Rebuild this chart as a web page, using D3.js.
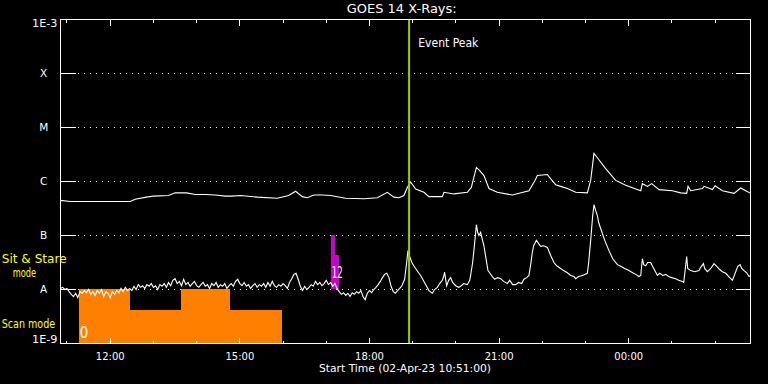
<!DOCTYPE html>
<html><head><meta charset="utf-8">
<script src="https://cdn.jsdelivr.net/npm/d3@7"></script>
<style>html,body{margin:0;padding:0;background:#000;} svg{display:block;}</style>
</head><body>
<svg id="c" width="768" height="384"></svg>
<script>
// ---------- data ----------
const startTime = "2023-04-02T10:51:00Z";
const endTime = "2023-04-03T02:49:00Z";
const eventPeak = "2023-04-02T18:55:00Z";
const titleText = "GOES 14 X-Rays:";
const xTitle = "Start Time (02-Apr-23 10:51:00)";
const yTickValues = [1e-9, 1e-8, 1e-7, 1e-6, 1e-5, 1e-4, 1e-3];
const yTickLabels = ["1E-9", "A", "B", "C", "M", "X", "1E-3"];
const gridValues = [1e-8, 1e-7, 1e-6, 1e-5, 1e-4];

// long channel (1-8 A): minutes after start, log10 flux (W/m^2)
const longMinutes = [0,13.5,96.8,103.7,119.4,129.2,150,159.3,175,187.1,201,214.9,228.8,237.5,250,273.2,301,316.7,326.4,335.7,342.6,351.8,363.5,375,395.8,421.3,439.9,453.8,462.9,469.9,476.8,481.5,486.1,493.1,504.6,511.5,530.1,532.4,546.3,564.9,570.4,577.4,582,587.9,594.9,606.5,627.4,650.4,658.8,662.1,676,678.2,687.5,694.4,703.8,715.3,731.5,736.1,740.7,745.4,756.9,770.8,784.7,805.6,807.9,814.9,820.8,831,849.6,861.1,869.4,871.3,875,891.3,893.5,905.1,908.8,919,935.2,944.4,951.4,958.3];
const longLog10 = [-6.35,-6.37,-6.37,-6.33,-6.29,-6.27,-6.26,-6.21,-6.21,-6.24,-6.24,-6.25,-6.27,-6.27,-6.26,-6.29,-6.31,-6.26,-6.18,-6.28,-6.30,-6.25,-6.25,-6.26,-6.31,-6.32,-6.30,-6.20,-6.29,-6.30,-6.26,-6.11,-6.01,-6.14,-6.20,-6.28,-6.28,-6.20,-6.23,-6.20,-6.11,-5.74,-5.80,-5.89,-6.13,-6.20,-6.25,-6.17,-5.98,-5.89,-5.87,-5.91,-6.06,-6.09,-6.13,-6.20,-6.21,-5.98,-5.48,-5.56,-5.76,-5.98,-6.07,-6.17,-6.04,-6.09,-6.04,-6.15,-6.17,-6.21,-6.22,-6.09,-6.17,-6.13,-6.09,-6.15,-6.08,-6.17,-6.22,-6.12,-6.17,-6.22];

// short channel (0.5-4 A): quiet part at a 3-minute cadence from start, log10 flux
const shortCadence = 3;
const shortQuietLog10 = [-7.98,-7.96,-8.00,-7.98,-8.04,-8.09,-8.13,-8.07,-8.15,
-8.04,-8.07,-8.02,-8.06,-8.00,-8.09,-8.04,-8.11,-8.02,-8.07,-8.00,-8.13,-8.04,-8.07,-8.15,-8.04,-8.09,-8.02,-8.06,-7.98,-8.04,-7.96,-8.02,-7.98,
-8.02,-7.94,-8.00,-7.91,-7.96,-7.93,-7.98,-7.91,-7.94,-7.89,
-7.96,-7.93,-8.00,-7.91,-7.94,-7.89,-7.96,-7.87,-7.93,-7.83,
-7.80,-7.89,-7.85,-7.93,-7.81,-7.91,-7.87,-7.94,-7.89,-7.85,
-7.93,-7.96,-7.91,-7.87,-7.94,-7.91,-7.98,-7.89,-7.93,-7.87,
-7.96,-7.91,-7.94,-7.89,-7.98,-7.93,-7.89,-7.94,-7.85,-7.81,
-7.89,-7.93,-7.87,-7.94,-7.91,-7.98,-7.93,-7.89,-7.96,-7.91,
-7.94,-7.89,-7.96,-7.87,-7.94,-7.85,-7.93,-7.96,-7.91,-7.94,
-7.89,-7.93,-7.98,-7.87,-7.80,-7.72,-7.70,-7.81,-7.94,-8.02,
-7.94,-8.00,-7.96,-7.91,-7.94,-7.85,-7.91,-7.87,-7.93,-7.89,
-7.83,-7.91,-7.87,-7.94,-7.89,-7.98,-8.04,-8.09,-8.06,-8.11,
-8.07,-8.13,-8.06,-8.09,-8.04,-8.07,-8.02,-8.13,-8.19,-8.07,
-8.02,-8.06,-8.00,-7.96,-7.91,-7.85,-7.78,-7.72,-7.70,-7.78,
-7.94,-8.04,-8.07,-8.02,-7.98,-7.93];
// short channel, active part: minutes after start, log10 flux
const shortFlareMinutes = [477.8,480.6,482.4,484.7,488.5,493.1,497.2,500,504.6,508.3,511.5,516.3,519.4,523.2,526.4,530.1,531.9,533.3,536.1,538.9,541.7,544.4,548.6,552.8,555.6,559.7,564.9,568.1,569.4,572.2,574,577.4,579.2,581,583.3,585.4,587.9,590.3,593.5,595.8,599.6,602.8,606.9,611.1,615.3,620.4,623.6,627.8,631.9,636.1,640.3,643.5,647.2,650.4,652.8,655.1,656.9,660.7,663.9,666.7,670.8,676,680.6,685.1,688.9,694.4,698.6,703.8,708.3,712.9,715.3,719.4,724.6,727.8,731.5,733.3,736.1,738.9,740.7,743.1,745.4,747.2,750,755.6,761.5,766.7,773.2,777.8,783.3,789.3,794.4,798.6,803.2,805.6,807.9,809.7,812.5,815.3,819.4,823.6,828.8,831.9,836.1,840.3,844.4,848.6,854.2,858.3,863.5,865.3,869.4,870.8,875,880.6,886.5,888.9,892.6,894.4,898.2,902.8,907.4,911.1,915.3,919,923.6,927.8,932.9,936.1,940.3,943.5,945.8,949,952.8,956,958.3];
const shortFlareLog10 = [-7.81,-7.50,-7.28,-7.39,-7.52,-7.61,-7.69,-7.74,-7.85,-7.94,-8.02,-8.07,-8.00,-7.96,-7.89,-7.83,-7.76,-7.68,-7.93,-7.83,-7.78,-7.87,-7.93,-7.96,-7.94,-7.89,-7.91,-7.83,-7.74,-7.50,-7.28,-6.80,-6.94,-7.00,-6.94,-7.06,-7.19,-7.39,-7.65,-7.69,-7.76,-7.81,-7.78,-7.80,-7.85,-7.89,-7.83,-7.91,-7.91,-7.87,-7.89,-7.81,-7.78,-7.74,-7.54,-7.31,-7.19,-7.09,-7.15,-7.20,-7.19,-7.22,-7.37,-7.50,-7.56,-7.61,-7.65,-7.69,-7.74,-7.76,-7.80,-7.76,-7.74,-7.72,-7.70,-7.50,-7.09,-6.63,-6.43,-6.54,-6.63,-6.76,-6.87,-7.09,-7.28,-7.43,-7.54,-7.57,-7.61,-7.65,-7.69,-7.72,-7.76,-7.74,-7.43,-7.54,-7.56,-7.50,-7.50,-7.61,-7.74,-7.70,-7.74,-7.72,-7.76,-7.78,-7.80,-7.83,-7.85,-7.87,-7.39,-7.61,-7.65,-7.67,-7.65,-7.59,-7.52,-7.61,-7.67,-7.61,-7.52,-7.57,-7.63,-7.67,-7.70,-7.76,-7.83,-7.72,-7.57,-7.54,-7.61,-7.65,-7.69,-7.76,-7.74];

// observing modes
const scanStart = ["11:17", "12:28", "13:38", "14:47"];
const scanEnd   = ["12:28", "13:38", "14:47", "15:58"];
const scanLevel = [1e-8, 4.1e-9, 1e-8, 4.1e-9];
const stareStart = ["17:06", "17:12"];
const stareEnd   = ["17:12", "17:17"];
const stareLevel = [1e-7, 4.2e-8];
const modeLabels = ["0", "12"];
const modeLabelTimes = ["11:17", "17:07"];
const modeLabelLevels = [1.25e-9, 1.6e-8];

// ---------- drawing ----------
const W = 768, H = 384, L = 60.5, R = 750.5, T = 19.5, B = 343.5;
const svg = d3.select("#c");
const t0 = new Date(startTime), t1 = new Date(endTime);
const x = d3.scaleUtc().domain([t0, t1]).range([L, R]);
const y = d3.scaleLog().domain([1e-9, 1e-3]).range([B, T]);
const addMin = m => new Date(t0.getTime() + m * 60000);
const clock = s => new Date(`2023-04-02T${s}:00Z`);
const FONT = "DejaVu Sans, sans-serif";

svg.append("rect").attr("width", W).attr("height", H).attr("fill", "#000");

// dotted grid lines
svg.append("g").selectAll("line").data(gridValues).join("line")
  .attr("x1", 78).attr("x2", 736)
  .attr("y1", d => y(d)).attr("y2", d => y(d))
  .attr("stroke", "#fff").attr("stroke-width", 1)
  .attr("stroke-dasharray", "1,5").attr("shape-rendering", "crispEdges");

// scan mode blocks (orange)
svg.append("g").selectAll("rect").data(scanStart).join("rect")
  .attr("x", (d) => Math.round(x(clock(d))))
  .attr("width", (d, i) => Math.round(x(clock(scanEnd[i]))) - Math.round(x(clock(d))))
  .attr("y", (d, i) => Math.floor(y(scanLevel[i])))
  .attr("height", (d, i) => Math.floor(y(1e-9)) - Math.floor(y(scanLevel[i])))
  .attr("fill", "#ff8000").attr("shape-rendering", "crispEdges");

// sit & stare blocks (magenta)
svg.append("g").selectAll("rect").data(stareStart).join("rect")
  .attr("x", (d) => Math.round(x(clock(d))))
  .attr("width", (d, i) => Math.round(x(clock(stareEnd[i]))) - Math.round(x(clock(d))))
  .attr("y", (d, i) => Math.floor(y(stareLevel[i])))
  .attr("height", (d, i) => Math.floor(y(1e-8)) - Math.floor(y(stareLevel[i])))
  .attr("fill", "#cc00cc").attr("shape-rendering", "crispEdges");

// curves
const longData = longMinutes.map((m, i) => ({ t: addMin(m), v: 10 ** longLog10[i] }));
const shortData = shortQuietLog10.map((v, k) => ({ t: addMin(k * shortCadence), v: 10 ** v }))
  .concat(shortFlareMinutes.map((m, i) => ({ t: addMin(m), v: 10 ** shortFlareLog10[i] })));
const line = d3.line().x(d => x(d.t)).y(d => y(d.v));
[longData, shortData].forEach(data => {
  svg.append("path").datum(data).attr("d", line)
    .attr("fill", "none").attr("stroke", "#fff").attr("stroke-width", 1.1)
    .attr("stroke-linejoin", "miter");
});

// mode labels
modeLabels.forEach((s, i) => {
  svg.append("text").text(s)
    .attr("x", x(clock(modeLabelTimes[i])) + 0.5).attr("y", y(modeLabelLevels[i]))
    .attr("fill", "#fff").attr("font-family", FONT).attr("font-size", 15)
    .attr("textLength", s.length === 1 ? 8.5 : 11).attr("lengthAdjust", "spacingAndGlyphs");
});

// event peak line
svg.append("line")
  .attr("x1", x(new Date(eventPeak))).attr("x2", x(new Date(eventPeak)))
  .attr("y1", T - 0.5).attr("y2", B + 0.5)
  .attr("stroke", "#9bcd00").attr("stroke-width", 2);

// frame
svg.append("rect").attr("x", L).attr("y", T).attr("width", R - L).attr("height", B - T)
  .attr("fill", "none").attr("stroke", "#fff").attr("stroke-width", 1)
  .attr("shape-rendering", "crispEdges");

function styleAxis(g) {
  g.select(".domain").remove();
  g.selectAll("line").attr("stroke", "#fff").attr("shape-rendering", "crispEdges");
  g.selectAll("text").attr("fill", "#fff").attr("font-family", FONT).attr("font-size", 10);
}

// bottom axis
const gB = svg.append("g").attr("transform", `translate(0,${B})`);
gB.append("g").call(d3.axisBottom(x).ticks(d3.utcHour.every(1)).tickSize(-3).tickSizeOuter(0).tickFormat("").offset(0)).call(styleAxis);
gB.append("g").call(d3.axisBottom(x).ticks(d3.utcHour.every(3)).tickSize(-6).tickSizeOuter(0).tickPadding(9)
  .tickFormat(d3.utcFormat("%H:%M")).offset(0)).call(styleAxis);

// top axis
const gT = svg.append("g").attr("transform", `translate(0,${T})`);
gT.append("g").call(d3.axisTop(x).ticks(d3.utcHour.every(1)).tickSize(-3).tickSizeOuter(0).tickFormat("").offset(0)).call(styleAxis);
gT.append("g").call(d3.axisTop(x).ticks(d3.utcHour.every(3)).tickSize(-6).tickSizeOuter(0).tickFormat("").offset(0)).call(styleAxis);

// left axis
const gL = svg.append("g").attr("transform", `translate(${L},0)`)
  .call(d3.axisLeft(y).tickValues(yTickValues).tickSize(-15).tickSizeOuter(0).tickPadding(3)
    .tickFormat((d, i) => yTickLabels[i]).offset(0)).call(styleAxis);
gL.selectAll(".tick text").each(function (d, i) {
  const s = yTickLabels[i];
  const t = d3.select(this);
  if (s.length === 1) {
    t.attr("text-anchor", "middle").attr("x", -16.8).attr("font-size", 10.5);
  } else {
    t.attr("textLength", 25.5).attr("lengthAdjust", "spacingAndGlyphs")
     .attr("dy", d === 1e-3 ? "0.68em" : "-0.02em").attr("font-size", 10.5);
  }
});

// right axis
svg.append("g").attr("transform", `translate(${R},0)`)
  .call(d3.axisRight(y).tickValues(yTickValues).tickSize(-15).tickSizeOuter(0).tickFormat("").offset(0)).call(styleAxis);

// texts
svg.append("text").text(titleText).attr("x", 346.7).attr("y", 13.3)
  .attr("fill", "#fff").attr("font-family", FONT).attr("font-size", 11.5)
  .attr("textLength", 110).attr("lengthAdjust", "spacingAndGlyphs");
svg.append("text").text("Event Peak").attr("x", 418.3).attr("y", 46.7)
  .attr("fill", "#fff").attr("font-family", FONT).attr("font-size", 11.5)
  .attr("textLength", 60).attr("lengthAdjust", "spacingAndGlyphs");
svg.append("text").text(xTitle).attr("x", 319).attr("y", 371.7)
  .attr("fill", "#fff").attr("font-family", FONT).attr("font-size", 10.5)
  .attr("textLength", 172).attr("lengthAdjust", "spacingAndGlyphs");

const yellow = "#ffff00";
[["Sit & Stare", 1.7, 262.5, 65], ["mode", 12.7, 276.5, 23.5], ["Scan mode", 1.7, 328.3, 53.5]].forEach(([s, tx, ty, len]) => {
  svg.append("text").text(s).attr("x", tx).attr("y", ty)
    .attr("fill", yellow).attr("font-family", FONT).attr("font-size", 11.5)
    .attr("textLength", len).attr("lengthAdjust", "spacingAndGlyphs");
});
</script>
</body></html>
